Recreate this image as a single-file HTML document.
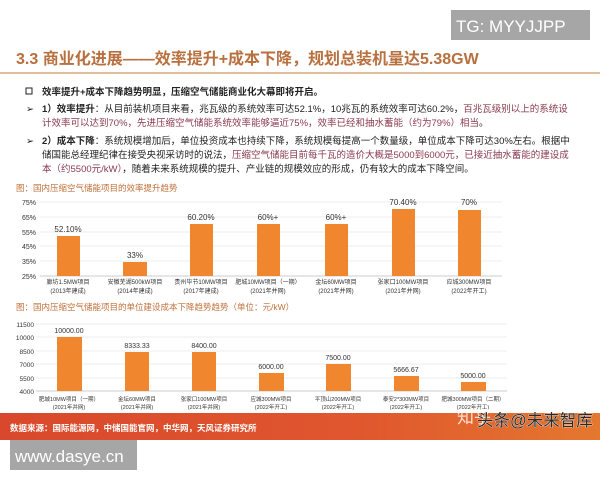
<!DOCTYPE html>
<html><head><meta charset="utf-8"><style>
body{margin:0;width:600px;height:480px;background:#fff;overflow:hidden;font-family:"Liberation Sans","Noto Sans CJK SC",sans-serif;}
svg text{font-family:"Liberation Sans","Noto Sans CJK SC",sans-serif;}
</style></head><body>
<svg width="600" height="480" viewBox="0 0 600 480" xmlns="http://www.w3.org/2000/svg">
<defs><linearGradient id="ft" x1="0" x2="1"><stop offset="0" stop-color="#d9482c"/><stop offset="0.6" stop-color="#e0572e"/><stop offset="1" stop-color="#e4782f"/></linearGradient></defs>
<rect x="451" y="10" width="139" height="30" fill="#a6a6a6"/>
<text x="456" y="32" font-size="17" fill="#fff">TG: MYYJJPP</text>
<text x="16" y="64" font-size="16" font-weight="bold" fill="#b8703f">3.3 商业化进展——效率提升+成本下降，规划总装机量达5.38GW</text>
<line x1="0" y1="73" x2="600" y2="73" stroke="#d9a77c" stroke-width="1.5"/>
<g font-size="9.5" fill="#222">
<rect x="26" y="88" width="6" height="6" fill="none" stroke="#222"/>
<text x="42" y="95" font-weight="bold">效率提升+成本下降趋势明显，压缩空气储能商业化大幕即将开启。</text>
<text x="26" y="112">➢</text>
<text x="42" y="112"><tspan font-weight="bold">1）效率提升</tspan>：从目前装机项目来看，兆瓦级的系统效率可达52.1%，10兆瓦的系统效率可达60.2%，<tspan fill="#8a3a50">百兆瓦级别以上的系统设</tspan></text>
<text x="42" y="126" fill="#8a3a50">计效率可以达到70%，先进压缩空气储能系统效率能够逼近75%，效率已经和抽水蓄能（约为79%）相当<tspan fill="#222">。</tspan></text>
<text x="26" y="144">➢</text>
<text x="42" y="144"><tspan font-weight="bold">2）成本下降</tspan>：系统规模增加后，单位投资成本也持续下降，系统规模每提高一个数量级，单位成本下降可达30%左右。根据中</text>
<text x="42" y="158">储国能总经理纪律在接受央视采访时的说法，<tspan fill="#8a3a50">压缩空气储能目前每千瓦的造价大概是5000到6000元，已接近抽水蓄能的建设成</tspan></text>
<text x="42" y="172"><tspan fill="#8a3a50">本（约5500元/kW）</tspan>，随着未来系统规模的提升、产业链的规模效应的形成，仍有较大的成本下降空间。</text>
</g>
<text x="16" y="191" font-size="8.5" fill="#c0703a">图：国内压缩空气储能项目的效率提升趋势</text>
<g font-size="7" fill="#333">
<g stroke="#e6e6e6" stroke-width="0.7">
<line x1="40" y1="202" x2="502" y2="202"/><line x1="40" y1="217" x2="502" y2="217"/><line x1="40" y1="232" x2="502" y2="232"/><line x1="40" y1="246" x2="502" y2="246"/><line x1="40" y1="261" x2="502" y2="261"/></g>
<line x1="40" y1="276" x2="502" y2="276" stroke="#bbb" stroke-width="0.8"/>
<g text-anchor="end"><text x="36" y="205">75%</text><text x="36" y="220">65%</text><text x="36" y="235">55%</text><text x="36" y="249">45%</text><text x="36" y="264">35%</text><text x="36" y="279">25%</text></g>
<g fill="#f0862e">
<rect x="57" y="236" width="23" height="40"/><rect x="123" y="262" width="24" height="14"/><rect x="190" y="224" width="23" height="52"/><rect x="257" y="224" width="23" height="52"/><rect x="325" y="224" width="23" height="52"/><rect x="392" y="209" width="23" height="67"/><rect x="458" y="210" width="23" height="66"/></g>
<g text-anchor="middle" font-size="8"><text x="68" y="232">52.10%</text><text x="135" y="258">33%</text><text x="201" y="220">60.20%</text><text x="268" y="220">60%+</text><text x="336" y="220">60%+</text><text x="403" y="205">70.40%</text><text x="469" y="205">70%</text></g>
<g text-anchor="middle" font-size="6"><text x="68" y="284">廊坊1.5MW项目</text><text x="68" y="293">(2013年建成)</text><text x="135" y="284">安徽芜湖500kW项目</text><text x="135" y="293">(2014年建成)</text><text x="201" y="284">贵州毕节10MW项目</text><text x="201" y="293">(2017年建成)</text><text x="268" y="284">肥城10MW项目（一期）</text><text x="268" y="293">(2021年并网)</text><text x="336" y="284">金坛60MW项目</text><text x="336" y="293">(2021年并网)</text><text x="403" y="284">张家口100MW项目</text><text x="403" y="293">(2021年并网)</text><text x="469" y="284">应城300MW项目</text><text x="469" y="293">(2022年开工)</text></g>
</g>
<text x="16" y="310" font-size="8.5" fill="#c0703a">图：国内压缩空气储能项目的单位建设成本下降趋势趋势（单位：元/kW）</text>
<g font-size="6.5" fill="#333">
<g stroke="#e6e6e6" stroke-width="0.7"><line x1="36" y1="324" x2="507" y2="324"/><line x1="36" y1="337" x2="507" y2="337"/><line x1="36" y1="351" x2="507" y2="351"/><line x1="36" y1="364" x2="507" y2="364"/><line x1="36" y1="378" x2="507" y2="378"/></g>
<line x1="36" y1="391" x2="507" y2="391" stroke="#bbb" stroke-width="0.8"/>
<g text-anchor="end"><text x="34" y="327">11500</text><text x="34" y="340">10000</text><text x="34" y="354">8500</text><text x="34" y="367">7000</text><text x="34" y="381">5500</text><text x="34" y="394">4000</text></g>
<g fill="#f0862e"><rect x="57" y="337" width="25" height="54"/><rect x="125" y="352" width="24" height="39"/><rect x="192" y="352" width="24" height="39"/><rect x="259" y="373" width="25" height="18"/><rect x="326" y="364" width="25" height="27"/><rect x="394" y="376" width="25" height="15"/><rect x="461" y="382" width="25" height="9"/></g>
<g text-anchor="middle" font-size="7"><text x="69" y="333">10000.00</text><text x="137" y="348">8333.33</text><text x="204" y="348">8400.00</text><text x="271" y="369">6000.00</text><text x="338" y="360">7500.00</text><text x="406" y="372">5666.67</text><text x="473" y="378">5000.00</text></g>
<g text-anchor="middle" font-size="5.5"><text x="69" y="401">肥城10MW项目（一期）</text><text x="69" y="409">(2021年并网)</text><text x="137" y="401">金坛60MW项目</text><text x="137" y="409">(2021年并网)</text><text x="204" y="401">张家口100MW项目</text><text x="204" y="409">(2021年并网)</text><text x="271" y="401">应城300MW项目</text><text x="271" y="409">(2022年开工)</text><text x="338" y="401">平顶山200MW项目</text><text x="338" y="409">(2022年开工)</text><text x="406" y="401">泰安2*300MW项目</text><text x="406" y="409">(2022年开工)</text><text x="473" y="401">肥城300MW项目（二期）</text><text x="473" y="409">(2022年开工)</text></g>
</g>
<rect x="0" y="413" width="600" height="27" fill="url(#ft)"/>
<text x="10" y="431" font-size="8.5" fill="#fff" font-weight="bold">数据来源：国际能源网，中储国能官网，中华网，天风证券研究所</text>
<text x="457" y="423" font-size="17" fill="#fff" opacity="0.8">知乎</text>
<text x="477" y="426" font-size="16.5" fill="#2a2a2a" stroke="#fff" stroke-width="0.6" paint-order="stroke">头条@未来智库</text>
<rect x="10" y="440" width="127" height="30" fill="#a6a6a6"/>
<text x="15" y="462" font-size="17" fill="#fff">www.dasye.cn</text>
</svg>
</body></html>
